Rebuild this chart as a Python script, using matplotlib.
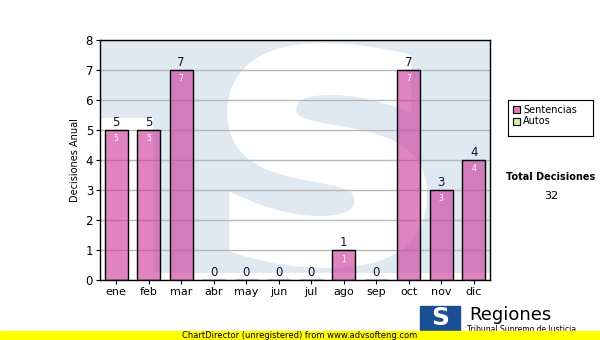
import matplotlib.pyplot as plt
from matplotlib.patches import Rectangle, PathPatch
from matplotlib.textpath import TextPath
from matplotlib.font_manager import FontProperties
from matplotlib.path import Path
import numpy as np

# datos
meses = ["ene", "feb", "mar", "abr", "may", "jun", "jul", "ago", "sep", "oct", "nov", "dic"]
sentencias = [5, 5, 7, 0, 0, 0, 0, 1, 0, 7, 3, 4]
autos = [0, 0, 0, 0, 0, 0, 0, 0, 0, 0, 0, 0]
total = 32

W, H = 600, 340
fig = plt.figure(figsize=(6, 3.4), dpi=100)

def fx(px):
    return px / W

def fy(py):
    return 1 - py / H

# plot area: x 100..490, y 40..280 (pixel)
ax = fig.add_axes([fx(100), fy(280), fx(390), 240 / H])
ax.set_xlim(-0.5, 11.5)
ax.set_ylim(0, 8)

# pixel -> datos (x lineal en meses, y lineal 0..8)
def px2data(px, py):
    return -0.5 + (np.asarray(px) - 100) / 390 * 12, (280 - np.asarray(py)) / 240 * 8

# marca de agua: fondo celeste con una S blanca grande
bg = "#dfe9f2"
x0, y0 = px2data(153, 273)
x1, y1 = px2data(495, 35)
ax.add_patch(Rectangle((x0, y0), x1 - x0, y1 - y0, color=bg, zorder=0, lw=0))
x2, y2 = px2data(95, 118)
ax.add_patch(Rectangle((x2, y2), x0 - x2, y1 - y2, color=bg, zorder=0, lw=0))

tp = TextPath((0, 0), "S", size=100, prop=FontProperties(family="DejaVu Sans", weight="bold"))
v = tp.vertices.copy()
vx0, vy0 = v.min(axis=0)
vx1, vy1 = v.max(axis=0)
# caja de la S en pixeles (el borde blanco la engorda unos 7 px por lado)
sx0, sx1, sy0, sy1 = 211, 420, 50, 261
pxs = sx0 + (v[:, 0] - vx0) / (vx1 - vx0) * (sx1 - sx0)
pys = sy1 - (v[:, 1] - vy0) / (vy1 - vy0) * (sy1 - sy0)
dx, dy = px2data(pxs, pys)
spath = Path(np.column_stack([dx, dy]), tp.codes)
ax.add_patch(PathPatch(spath, facecolor="white", edgecolor="white", lw=10,
                       joinstyle="miter", zorder=0.5))

ax.set_yticks(range(0, 9))
ax.grid(axis="y", color="#b8b8b8", lw=1, zorder=1)
ax.set_axisbelow(True)

ax.bar(range(len(meses)), sentencias, width=0.72, color="#cc3399", alpha=0.6, zorder=2)
ax.bar(range(len(meses)), sentencias, width=0.72, facecolor="none", edgecolor="black",
       lw=1, zorder=3)

for i, val in enumerate(sentencias):
    ax.text(i, val + 0.03, str(val), ha="center", va="bottom", fontsize=8.5, color="#111133", zorder=4)
    if val > 0:
        ax.text(i, val - 0.15, str(val), ha="center", va="top", fontsize=5.5, color="white",
                zorder=4)

ax.set_xticks(range(len(meses)))
ax.set_xticklabels(meses, fontsize=8)
ax.tick_params(axis="y", labelsize=8.5, length=3, pad=2)
ax.tick_params(axis="x", length=3, pad=2)
for s in ax.spines.values():
    s.set_linewidth(1)
ax.set_ylabel("Decisiones Anual", fontsize=7, labelpad=4)

# leyenda
lax = fig.add_axes([fx(508), fy(136), fx(85), 36 / H])
lax.set_xlim(0, 85)
lax.set_ylim(36, 0)
lax.set_xticks([])
lax.set_yticks([])
lax.add_patch(Rectangle((5, 6), 7, 7, facecolor="#e080c0", edgecolor="black", lw=0.8))
lax.text(15, 9.5, "Sentencias", fontsize=7, va="center")
lax.add_patch(Rectangle((5, 18), 7, 7, facecolor="#d8eea0", edgecolor="black", lw=0.8))
lax.text(15, 21.5, "Autos", fontsize=7, va="center")

fig.text(fx(551), fy(177), "Total Decisiones", fontsize=7, fontweight="bold", ha="center", va="center")
fig.text(fx(551), fy(196), str(total), fontsize=8, ha="center", va="center")

# logo abajo
fig.patches.append(Rectangle((fx(420), fy(331)), fx(40), 25 / H, transform=fig.transFigure,
                             color="#1b4f93", zorder=1))
fig.text(fx(440), fy(318), "S", fontsize=18, fontweight="bold", color="white", ha="center",
         va="center", zorder=2)
fig.text(fx(469), fy(315), "Regiones", fontsize=13, ha="left", va="center")
fig.text(fx(467), fy(330), "Tribunal Supremo de Justicia", fontsize=5.5, ha="left", va="center")

# barra amarilla
fig.patches.append(Rectangle((0, 0), 1, 9 / H, transform=fig.transFigure, color="#ffff00", zorder=5))
fig.text(0.5, fy(335.5), "ChartDirector (unregistered) from www.advsofteng.com", fontsize=6,
         ha="center", va="center", zorder=6)

fig.savefig("out.png", dpi=100)
